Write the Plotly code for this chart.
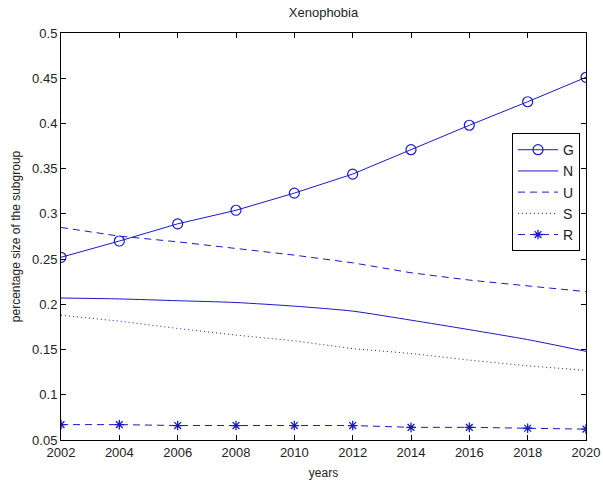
import plotly.graph_objects as go

# Subgroup sizes over time
years = [2002, 2004, 2006, 2008, 2010, 2012, 2014, 2016, 2018, 2020]
G = [0.252, 0.270, 0.289, 0.304, 0.323, 0.344, 0.371, 0.398, 0.424, 0.451]
N = [0.207, 0.206, 0.204, 0.202, 0.198, 0.1925, 0.1825, 0.172, 0.161, 0.148]
U = [0.285, 0.2754, 0.2691, 0.2618, 0.2544, 0.2459, 0.2349, 0.2268, 0.220, 0.214]
S = [0.188, 0.1814, 0.1733, 0.166, 0.1596, 0.151, 0.1457, 0.1383, 0.132, 0.127]
R = [0.067, 0.067, 0.066, 0.066, 0.066, 0.066, 0.064, 0.064, 0.063, 0.062]

x_ticks = [2002, 2004, 2006, 2008, 2010, 2012, 2014, 2016, 2018, 2020]
y_ticks = [0.05, 0.1, 0.15, 0.2, 0.25, 0.3, 0.35, 0.4, 0.45, 0.5]
y_tick_text = ["0.05", "0.1", "0.15", "0.2", "0.25", "0.3", "0.35", "0.4", "0.45", "0.5"]

BLUE = "rgb(25,25,200)"
FONT = "Liberation Sans, Arial, sans-serif"

fig = go.Figure()
fig.add_trace(go.Scatter(
    x=years, y=G, name="G", mode="lines+markers",
    line=dict(color=BLUE, width=1),
    marker=dict(symbol="circle-open", size=10, color=BLUE, line=dict(width=1.2, color=BLUE)),
))
fig.add_trace(go.Scatter(
    x=years, y=N, name="N", mode="lines",
    line=dict(color=BLUE, width=1, shape="spline", smoothing=0.6),
))
fig.add_trace(go.Scatter(
    x=years, y=U, name="U", mode="lines",
    line=dict(color=BLUE, width=1, dash="7px,5px"),
))
fig.add_trace(go.Scatter(
    x=years, y=S, name="S", mode="lines",
    line=dict(color=BLUE, width=1, dash="1px,3px"),
))
fig.add_trace(go.Scatter(
    x=years, y=R, name="R", mode="lines+markers",
    line=dict(color=BLUE, width=1, dash="7px,5px"),
    marker=dict(symbol="asterisk-open", size=8, color=BLUE, line=dict(width=1.3, color=BLUE)),
))

axis_common = dict(
    showgrid=False, zeroline=False, automargin=False,
    showline=True, linecolor="black", linewidth=1, mirror="allticks",
    ticks="inside", ticklen=5, tickcolor="black", tickwidth=1,
    tickfont=dict(family=FONT, size=13, color="#222"),
)

fig.update_layout(
    width=603, height=484,
    margin=dict(l=61, r=17, t=33, b=44),
    paper_bgcolor="white", plot_bgcolor="white",
    title=dict(text="Xenophobia", x=0.5, xref="paper", y=0.975, yanchor="middle",
               font=dict(family=FONT, size=13, color="#222")),
    showlegend=True,
    legend=dict(
        x=0.9886, y=0.754, xanchor="right", yanchor="top",
        bordercolor="black", borderwidth=1, bgcolor="white",
        font=dict(family=FONT, size=14, color="#222"),
        tracegroupgap=0, itemwidth=40,
    ),
)
fig.update_xaxes(
    range=[2002, 2020], tickvals=x_ticks, ticktext=[str(t) for t in x_ticks],
    title=dict(text="years", font=dict(family=FONT, size=12, color="#222"), standoff=10),
    **axis_common,
)
fig.update_yaxes(
    range=[0.05, 0.5], tickvals=y_ticks, ticktext=y_tick_text,
    title=dict(text="percentage size of the subgroup", font=dict(family=FONT, size=12, color="#222"), standoff=8),
    **axis_common,
)

fig.write_html("out.html")
